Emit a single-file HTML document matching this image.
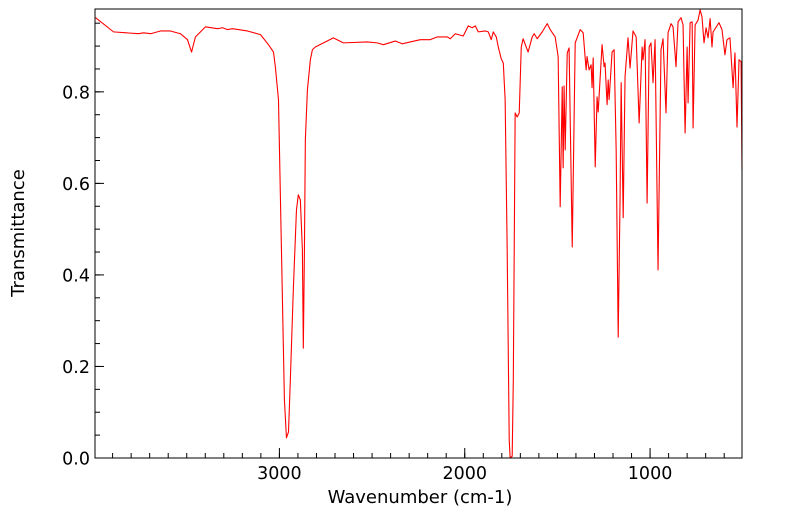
<!DOCTYPE html>
<html><head><meta charset="utf-8"><style>
html,body{margin:0;padding:0;background:#fff;}
svg text{font-family:"DejaVu Sans","Liberation Sans",sans-serif;}
</style></head><body>
<svg id="chart" width="799" height="516" xmlns="http://www.w3.org/2000/svg"></svg>
<script>
const wavenumbers=[3992,3895,3760,3733,3695,3642,3588,3534,3496,3474,3453,3399,3334,3307,3280,3253,3173,3102,3059,3032,3022,3005,2989,2973,2962,2951,2941,2925,2908,2898,2887,2876,2871,2865,2860,2849,2833,2822,2806,2709,2655,2526,2472,2439,2375,2337,2294,2240,2186,2148,2094,2078,2051,2008,1981,1960,1943,1927,1889,1873,1857,1846,1830,1819,1803,1792,1782,1771,1760,1755,1744,1738,1733,1728,1717,1706,1695,1685,1658,1636,1625,1609,1582,1555,1539,1512,1496,1485,1474,1469,1464,1458,1447,1437,1420,1404,1377,1361,1345,1340,1329,1318,1313,1307,1296,1286,1280,1259,1248,1243,1232,1226,1221,1205,1194,1183,1172,1162,1156,1145,1135,1119,1108,1092,1075,1059,1043,1038,1027,1016,1005,995,984,973,957,941,930,914,903,887,876,860,849,833,822,811,800,795,784,773,768,757,741,730,720,709,698,687,676,666,660,628,612,596,585,569,552,542,531,520,509,504];
const transmittance=[0.962,0.931,0.927,0.929,0.927,0.933,0.933,0.927,0.914,0.887,0.920,0.942,0.938,0.940,0.936,0.938,0.933,0.925,0.903,0.887,0.855,0.783,0.455,0.127,0.044,0.057,0.170,0.367,0.542,0.575,0.564,0.455,0.240,0.455,0.695,0.804,0.870,0.892,0.898,0.918,0.907,0.909,0.907,0.903,0.911,0.905,0.909,0.914,0.914,0.920,0.920,0.916,0.927,0.922,0.944,0.940,0.944,0.931,0.933,0.931,0.914,0.931,0.920,0.898,0.872,0.863,0.783,0.455,0.039,0.000,0.004,0.170,0.455,0.754,0.745,0.754,0.898,0.916,0.887,0.920,0.927,0.916,0.931,0.949,0.936,0.920,0.877,0.549,0.811,0.634,0.813,0.673,0.885,0.896,0.461,0.907,0.936,0.929,0.848,0.877,0.848,0.859,0.809,0.874,0.636,0.789,0.756,0.903,0.855,0.863,0.772,0.826,0.783,0.887,0.892,0.673,0.264,0.564,0.820,0.525,0.833,0.918,0.852,0.933,0.920,0.732,0.898,0.870,0.914,0.557,0.898,0.907,0.820,0.914,0.411,0.892,0.916,0.754,0.929,0.949,0.942,0.855,0.953,0.962,0.946,0.710,0.898,0.776,0.951,0.953,0.721,0.946,0.957,0.979,0.964,0.907,0.940,0.918,0.960,0.898,0.931,0.951,0.936,0.881,0.914,0.918,0.809,0.885,0.723,0.870,0.866,0.630];
const yTicks=[0.0,0.2,0.4,0.6,0.8];
const yTickLabels=["0.0","0.2","0.4","0.6","0.8"];
const xTicks=[3000,2000,1000];
const xTickLabels=["3000","2000","1000"];

const L=95,R=742,T=9,B=458;
const xMin=3995,xMax=504,yMin=0,yMax=0.981;
const xs=v=>L+(xMin-v)/(xMin-xMax)*(R-L);
const ys=v=>B-(v-yMin)/(yMax-yMin)*(B-T);
const NS="http://www.w3.org/2000/svg";
const svg=document.getElementById('chart');
function mk(tag,attrs,parent){const e=document.createElementNS(NS,tag);for(const k in attrs)e.setAttribute(k,attrs[k]);(parent||svg).appendChild(e);return e;}

const d=wavenumbers.map((w,i)=>(i?'L':'M')+xs(w).toFixed(2)+','+ys(transmittance[i]).toFixed(2)).join(' ');
const line=mk('path',{d:d,fill:'none',stroke:'#ff0000','stroke-width':1.1,'stroke-linejoin':'round'});



const frame=mk('rect',{x:L,y:T,width:R-L,height:B-T,fill:'none',stroke:'#000','stroke-width':1});



const yAxis=mk('g',{});


for(let v=0;v<=0.9501;v+=0.05){const y=ys(v);mk('line',{x1:L,x2:L+5,y1:y,y2:y,stroke:'#000','stroke-width':1},yAxis);}
yTicks.forEach((v,i)=>{const y=ys(v);mk('line',{x1:L,x2:L+9,y1:y,y2:y,stroke:'#000','stroke-width':1},yAxis);
const t=mk('text',{x:L-5,y:y+6.5,'text-anchor':'end','font-size':17.5,fill:'#000'},yAxis);t.textContent=yTickLabels[i];

});

const xAxis=mk('g',{});


for(let v=600;v<=3900;v+=100){const x=xs(v);mk('line',{x1:x,x2:x,y1:B,y2:B-5,stroke:'#000','stroke-width':1},xAxis);}
xTicks.forEach((v,i)=>{const x=xs(v);mk('line',{x1:x,x2:x,y1:B,y2:B-10,stroke:'#000','stroke-width':1},xAxis);
const t=mk('text',{x:x,y:B+21,'text-anchor':'middle','font-size':17.5,fill:'#000'},xAxis);t.textContent=xTickLabels[i];

});

const xt=mk('text',{x:420,y:503,'text-anchor':'middle','font-size':18,fill:'#000'});xt.textContent='Wavenumber (cm-1)';


const yt=mk('text',{x:0,y:0,'text-anchor':'middle','font-size':18,fill:'#000',transform:'translate(24,233) rotate(-90)'});yt.textContent='Transmittance';


</script>
</body></html>
